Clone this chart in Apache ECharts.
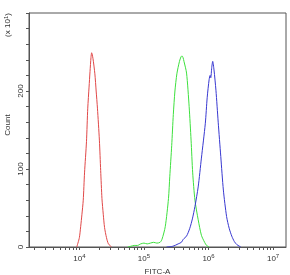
<!DOCTYPE html>
<html><head><meta charset="utf-8">
<script src="https://cdn.jsdelivr.net/npm/echarts@6/dist/echarts.min.js"></script>
<style>html,body{margin:0;padding:0;background:#fff}#c{width:290px;height:275px}</style>
</head><body><div id="c"></div>
<script>
// x values are log10(FITC-A intensity)
const redX   = [3.96,4.00,4.02,4.04,4.06,4.08,4.11,4.13,4.15,4.165,4.18,4.19,4.21,4.24,4.26,4.28,4.31,4.33,4.35,4.37,4.39,4.42,4.45,4.50];
const redY   = [0,12,26,42,60,95,135,178,205,225,243,249,242,222,200,178,137,98,62,42,25,12,4,0];
const greenX = [4.75,4.80,4.85,4.90,4.95,5.00,5.05,5.10,5.15,5.20,5.25,5.28,5.33,5.38,5.40,5.43,5.455,5.48,5.51,5.55,5.575,5.59,5.605,5.62,5.66,5.70,5.73,5.755,5.79,5.84,5.89,5.94,5.97,6.01];
const greenY = [0,1,2,2,4,5,4,5,6,5,6,10,26,62,90,130,170,200,222,238,244,245,243,238,223,180,137,95,60,35,15,6,2,0];
const blueX  = [5.35,5.45,5.53,5.58,5.61,5.66,5.71,5.75,5.79,5.84,5.89,5.95,5.98,6.01,6.025,6.035,6.05,6.065,6.085,6.115,6.15,6.19,6.23,6.28,6.32,6.36,6.40,6.44,6.50];
const blueY  = [0,1,4,6,10,14,24,36,52,77,114,158,192,215,220,217,230,238,227,201,160,116,73,39,24,14,7,3,0];
const xTickExponents = [4,5,6,7];
const yTickLabels = [0,100,200];

const xMin = 3.22, xMax = 7.2;
const minorTicks = [];
for (let n = 3; n <= 7; n++) for (let k = 1; k <= 9; k++) {
  const v = n + Math.log10(k);
  if (v >= xMin && v <= xMax) minorTicks.push(v);
}
const yTicks = [];
for (let v = 0; v <= 300; v += 20) yTicks.push(v);
const pair = (xs, ys) => xs.map((x, i) => [x, ys[i]]);
const txt = '#333', ax = '#555';

const chart = echarts.init(document.getElementById('c'), null, {renderer: 'canvas'});
chart.setOption({
  animation: false,
  grid: {left: 29, right: 4, top: 13, bottom: 28, containLabel: false, outerBoundsMode: 'none',
         show: true, borderColor: ax, borderWidth: 1},
  xAxis: {
    type: 'value', min: xMin, max: xMax,
    name: 'FITC-A', nameLocation: 'middle', nameGap: 19,
    nameTextStyle: {fontFamily: 'Liberation Sans', fontSize: 8, color: txt},
    axisLine: {lineStyle: {color: ax}},
    axisTick: {show: true, length: 3, customValues: minorTicks, lineStyle: {color: ax}},
    splitLine: {show: false},
    axisLabel: {
      customValues: xTickExponents, margin: 6,
      formatter: v => '{b|10}{s|' + Math.round(v) + '}',
      rich: {b: {fontFamily: 'Liberation Sans', fontSize: 8, color: txt},
             s: {fontFamily: 'Liberation Sans', fontSize: 6, color: txt, verticalAlign: 'top', padding: [0,0,5,0]}}
    }
  },
  yAxis: {
    type: 'value', min: 0, max: 300, interval: 20,
    axisLine: {show: true, lineStyle: {color: ax}},
    axisTick: {show: true, length: 3, customValues: yTicks, lineStyle: {color: ax}},
    splitLine: {show: false},
    axisLabel: {customValues: yTickLabels, rotate: 90, margin: 4,
      fontFamily: 'Liberation Sans', fontSize: 8, color: txt}
  },
  graphic: [{
    type: 'text', x: 8, y: 25, rotation: Math.PI / 2,
    style: {text: '(x 10{s|1})', fill: txt, fontFamily: 'Liberation Sans', fontSize: 8,
      align: 'center', verticalAlign: 'middle',
      rich: {s: {fontFamily: 'Liberation Sans', fontSize: 6, fill: txt, padding: [0,0,4,0]}}}
  }, {
    type: 'text', x: 8, y: 125, rotation: Math.PI / 2,
    style: {text: 'Count', fill: txt, fontFamily: 'Liberation Sans', fontSize: 8,
      align: 'center', verticalAlign: 'middle'}
  }],
  series: [
    {type: 'line', data: pair(redX, redY), showSymbol: false, smooth: 0.25, lineStyle: {color: '#e04848', width: 1}},
    {type: 'line', data: pair(greenX, greenY), showSymbol: false, smooth: 0.25, lineStyle: {color: '#3ee03e', width: 1}},
    {type: 'line', data: pair(blueX, blueY), showSymbol: false, smooth: 0.25, lineStyle: {color: '#3838d0', width: 1}}
  ]
});
</script></body></html>
